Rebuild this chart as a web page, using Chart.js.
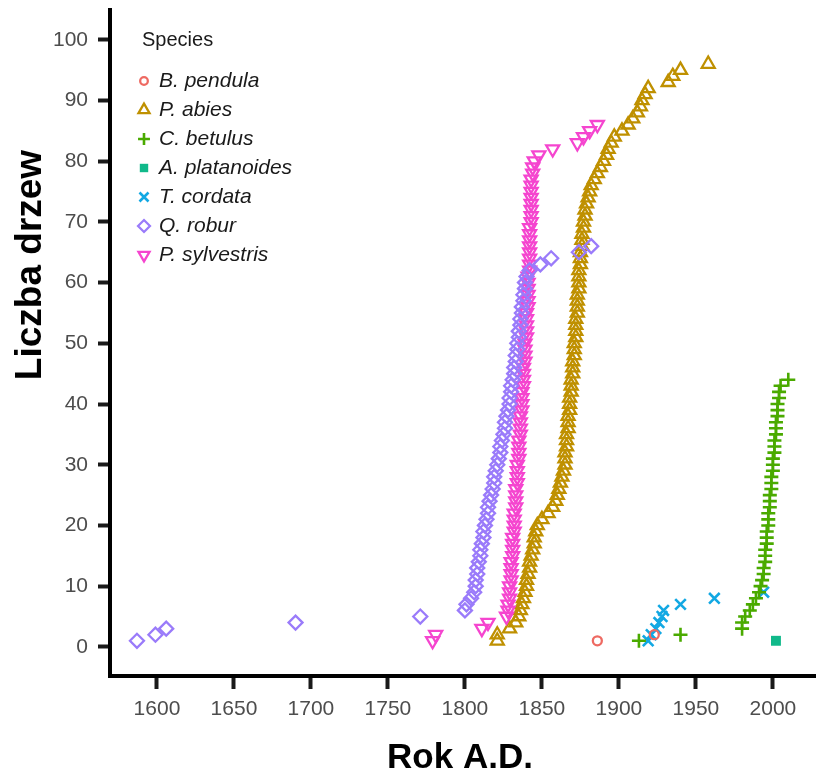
<!DOCTYPE html>
<html>
<head>
<meta charset="utf-8">
<script src="https://cdn.jsdelivr.net/npm/chart.js@4.4.1/dist/chart.umd.min.js"></script>
<style>
  html, body { margin: 0; padding: 0; background: #fff; }
</style>
</head>
<body>
<canvas id="chart" width="816" height="771"></canvas>
<script>
// years of each tree, sorted; y value is the running count of trees
const species = ["B. pendula", "P. abies", "C. betulus", "A. platanoides", "T. cordata", "Q. robur", "P. sylvestris"];

const bPendula = [1886, 1923];

const pAbies = [
  1821, 1821, 1829, 1833, 1835, 1836, 1837, 1838, 1839, 1840,
  1840, 1841, 1842, 1842, 1843, 1844, 1845, 1845, 1846, 1847,
  1850, 1854, 1857, 1859, 1860, 1861, 1862, 1863, 1864, 1865,
  1865, 1865, 1866, 1866, 1866, 1867, 1867, 1867, 1868, 1868,
  1868, 1869, 1869, 1869, 1870, 1870, 1870, 1871, 1871, 1871,
  1872, 1872, 1872, 1872, 1873, 1873, 1873, 1873, 1874, 1874,
  1874, 1874, 1875, 1875, 1875, 1876, 1876, 1876, 1877, 1877,
  1878, 1878, 1879, 1880, 1881, 1882, 1884, 1886, 1888, 1890,
  1892, 1893, 1895, 1897, 1902, 1906, 1909, 1912, 1914, 1915,
  1917, 1919, 1932, 1935, 1940, 1958
];

const cBetulus = [
  1913, 1940, 1980, 1980, 1982, 1985, 1987, 1989, 1991, 1992,
  1993, 1994, 1994, 1995, 1995, 1995, 1996, 1996, 1996, 1997,
  1997, 1997, 1998, 1998, 1998, 1999, 1999, 1999, 2000, 2000,
  2000, 2001, 2001, 2001, 2002, 2002, 2002, 2003, 2003, 2003,
  2004, 2004, 2005, 2010
];

const aPlatanoides = [2002];

const tCordata = [1919, 1921, 1924, 1926, 1928, 1929, 1940, 1962, 1994];

const qRobur = [
  1587, 1599, 1606, 1690, 1771, 1800, 1801, 1804, 1806, 1807,
  1807, 1808, 1808, 1809, 1810, 1810, 1811, 1812, 1812, 1813,
  1814, 1815, 1815, 1816, 1817, 1818, 1819, 1819, 1820, 1821,
  1822, 1823, 1823, 1824, 1825, 1826, 1826, 1827, 1828, 1829,
  1829, 1830, 1830, 1831, 1832, 1832, 1833, 1833, 1834, 1834,
  1835, 1835, 1836, 1836, 1837, 1837, 1838, 1838, 1839, 1839,
  1840, 1842, 1849, 1856, 1874, 1882
];

const pSylvestris = [
  1779, 1781, 1811, 1815, 1827, 1828, 1828, 1829, 1829, 1829,
  1830, 1830, 1830, 1830, 1831, 1831, 1831, 1831, 1832, 1832,
  1832, 1832, 1833, 1833, 1833, 1833, 1834, 1834, 1834, 1834,
  1835, 1835, 1835, 1835, 1836, 1836, 1836, 1836, 1837, 1837,
  1837, 1837, 1838, 1838, 1838, 1838, 1839, 1839, 1839, 1839,
  1840, 1840, 1840, 1840, 1840, 1841, 1841, 1841, 1841, 1841,
  1841, 1842, 1842, 1842, 1842, 1842, 1842, 1842, 1842, 1843,
  1843, 1843, 1843, 1843, 1843, 1843, 1843, 1844, 1844, 1845,
  1848, 1857, 1873, 1877, 1881, 1886
];

const xTicks = [1600, 1650, 1700, 1750, 1800, 1850, 1900, 1950, 2000];
const yTicks = [0, 10, 20, 30, 40, 50, 60, 70, 80, 90, 100];

const FONT = '"Liberation Sans", Arial, sans-serif';

function toPoints(years) {
  return years.map((yr, i) => ({ x: yr, y: i + 1 }));
}

function series(label, years, color, style, extra) {
  return Object.assign({
    label: label,
    data: toPoints(years),
    pointStyle: style,
    pointRadius: 7.5,
    pointBorderWidth: 2.3,
    pointBorderColor: color,
    pointBackgroundColor: "rgba(0,0,0,0)",
    pointRotation: 0,
    order: 2
  }, extra || {});
}

const datasets = [
  series(species[0], bPendula, "#ee6a62", "circle", { pointRadius: 4.5 }),
  series(species[1], pAbies, "#bf9000", "triangle"),
  series(species[2], cBetulus, "#4aaa00", "cross", { pointRadius: 7, pointBorderWidth: 2.6 }),
  series(species[3], aPlatanoides, "#10b98a", "rect", { pointRadius: 7, pointBorderWidth: 0, pointBackgroundColor: "#10b98a" }),
  series(species[4], tCordata, "#12a8e3", "crossRot", { pointRadius: 7.5, pointBorderWidth: 2.6 }),
  series(species[5], qRobur, "#9a7bfa", "rectRot", { pointRadius: 7, order: 0 }),
  series(species[6], pSylvestris, "#f545cf", "triangle", { pointRotation: 180, order: 1 })
];

// legend inside the panel + axis titles
const speciesLegend = {
  id: "speciesLegend",
  afterDraw(chart) {
    const ctx = chart.ctx;
    const left = chart.chartArea.left;
    ctx.save();
    ctx.textAlign = "left";
    ctx.textBaseline = "middle";
    ctx.fillStyle = "#1a1a1a";
    ctx.font = "20px " + FONT;
    ctx.fillText("Species", left + 32, 40);
    chart.data.datasets.forEach((ds, i) => {
      const y = 81 + i * 29;
      ctx.lineWidth = ds.pointBorderWidth;
      ctx.strokeStyle = ds.pointBorderColor;
      ctx.fillStyle = ds.pointBackgroundColor;
      Chart.helpers.drawPoint(ctx, {
        pointStyle: ds.pointStyle,
        rotation: ds.pointRotation,
        radius: ds.pointRadius * 0.85,
        borderWidth: ds.pointBorderWidth
      }, left + 34, y);
      ctx.fillStyle = "#1a1a1a";
      ctx.font = "italic 21px " + FONT;
      ctx.fillText(ds.label, left + 49, y);
    });

    ctx.fillStyle = "#000";
    ctx.textAlign = "center";
    ctx.textBaseline = "alphabetic";
    ctx.font = "bold 35px " + FONT;
    ctx.fillText("Rok A.D.", 460, 768);

    ctx.translate(41, 265);
    ctx.rotate(-Math.PI / 2);
    ctx.font = "bold 37px " + FONT;
    ctx.fillText("Liczba drzew", 0, 0);
    ctx.restore();
  }
};

function noPad(s) {
  s.paddingTop = 0;
  s.paddingBottom = 0;
  s.paddingLeft = 0;
  s.paddingRight = 0;
}

new Chart(document.getElementById("chart"), {
  type: "scatter",
  data: { datasets: datasets },
  plugins: [speciesLegend],
  options: {
    responsive: false,
    animation: false,
    layout: { autoPadding: false, padding: { top: 10, right: 0, bottom: 0, left: 0 } },
    plugins: {
      legend: { display: false },
      tooltip: { enabled: false }
    },
    scales: {
      x: {
        type: "linear",
        min: 1569.5,
        max: 2028,
        afterFit: (s) => { s.height = 95; noPad(s); },
        afterBuildTicks: (s) => { s.ticks = xTicks.map((v) => ({ value: v })); },
        grid: { drawOnChartArea: false, tickLength: 13, tickWidth: 4, tickColor: "#1a1a1a" },
        border: { color: "#000", width: 4 },
        ticks: {
          padding: 8,
          color: "#4d4d4d",
          font: { family: FONT, size: 21 },
          maxRotation: 0,
          callback: (v) => String(v)
        }
      },
      y: {
        min: -4.8,
        max: 104.9,
        afterFit: (s) => { s.width = 110; noPad(s); },
        afterBuildTicks: (s) => { s.ticks = yTicks.map((v) => ({ value: v })); },
        grid: { drawOnChartArea: false, tickLength: 12, tickWidth: 4, tickColor: "#1a1a1a" },
        border: { color: "#000", width: 4 },
        ticks: {
          padding: 10,
          color: "#4d4d4d",
          font: { family: FONT, size: 21 },
          callback: (v) => String(v)
        }
      }
    }
  }
});
</script>
</body>
</html>
